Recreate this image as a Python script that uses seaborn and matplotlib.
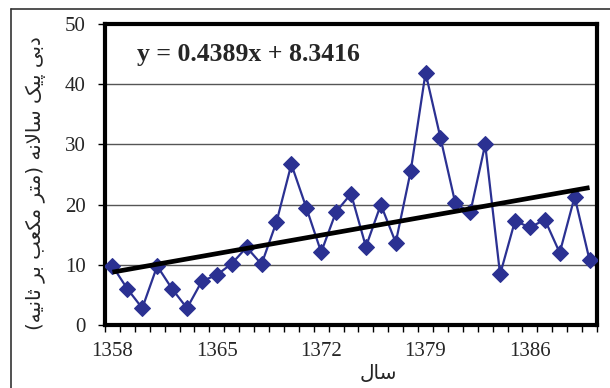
import matplotlib
matplotlib.use('Agg')
import matplotlib.pyplot as plt
import seaborn as sns
import numpy as np
import pandas as pd

# annual peak discharge, years 1358..1390 (solar hijri)
years = list(range(1358, 1391))
peak_flow = [9.8, 6.0, 2.8, 9.8, 6.0, 2.8, 7.3, 8.3, 10.2, 12.9, 10.1, 17.1,
             26.7, 19.5, 12.1, 18.8, 21.8, 13.0, 20.0, 13.7, 25.5, 41.9, 31.1,
             20.2, 18.7, 30.0, 8.4, 17.3, 16.2, 17.5, 12.0, 21.3, 10.8]
tick_years = ['1358', '1365', '1372', '1379', '1386']
y_ticks = [0, 10, 20, 30, 40, 50]
trend_slope = 0.4389
trend_intercept = 8.3416
equation = 'y = 0.4389x + 8.3416'
ylabel_text = 'دبی پیک سالانه (متر مکعب بر ثانیه)'
xlabel_text = 'سال'

# matplotlib has no arabic shaping, so pick presentation forms by hand
FORMS = {
    'ا': ('\uFE8D', '\uFE8E', None, None),
    'ب': ('\uFE8F', '\uFE90', '\uFE91', '\uFE92'),
    'ت': ('\uFE95', '\uFE96', '\uFE97', '\uFE98'),
    'ث': ('\uFE99', '\uFE9A', '\uFE9B', '\uFE9C'),
    'د': ('\uFEA9', '\uFEAA', None, None),
    'ر': ('\uFEAD', '\uFEAE', None, None),
    'س': ('\uFEB1', '\uFEB2', '\uFEB3', '\uFEB4'),
    'ع': ('\uFEC9', '\uFECA', '\uFECB', '\uFECC'),
    'ل': ('\uFEDD', '\uFEDE', '\uFEDF', '\uFEE0'),
    'م': ('\uFEE1', '\uFEE2', '\uFEE3', '\uFEE4'),
    'ن': ('\uFEE5', '\uFEE6', '\uFEE7', '\uFEE8'),
    'ه': ('\uFEE9', '\uFEEA', '\uFEEB', '\uFEEC'),
    'پ': ('\uFB56', '\uFB57', '\uFB58', '\uFB59'),
    'ک': ('\uFB8E', '\uFB8F', '\uFB90', '\uFB91'),
    'ی': ('\uFBFC', '\uFBFD', '\uFBFE', '\uFBFF'),
}


def dual(ch):
    return ch in FORMS and FORMS[ch][2] is not None


def shape(text):
    out = []
    i = 0
    while i < len(text):
        ch = text[i]
        prev = text[i - 1] if i > 0 else ''
        joins_prev = dual(prev)
        if ch == 'ل' and i + 1 < len(text) and text[i + 1] == 'ا':
            out.append('\uFEFC' if joins_prev else '\uFEFB')
            i += 2
            continue
        if ch not in FORMS:
            out.append(ch)
            i += 1
            continue
        nxt = text[i + 1] if i + 1 < len(text) else ''
        joins_next = dual(ch) and nxt in FORMS
        iso, fin, ini, med = FORMS[ch]
        if joins_prev and joins_next:
            out.append(med)
        elif joins_prev:
            out.append(fin)
        elif joins_next:
            out.append(ini)
        else:
            out.append(iso)
        i += 1
    visual = ''.join(reversed(out))
    return visual.translate(str.maketrans('()', ')('))


df = pd.DataFrame({'pos': np.arange(len(years)), 'flow': peak_flow})

sns.set_style('white')
plt.rcParams['font.family'] = ['Liberation Serif', 'DejaVu Serif']

fig = plt.figure(figsize=(6.1, 3.88), dpi=100)
ax = fig.add_axes([105 / 610, 63 / 388, 492 / 610, 301 / 388])

ax.yaxis.grid(True, color='#555555', linewidth=1.0)
ax.set_axisbelow(True)

sns.lineplot(data=df, x='pos', y='flow', ax=ax, color='#2B3192', linewidth=1.6,
             marker='D', markersize=8, markeredgecolor='#2B3192', zorder=3)

trend_x = df['pos'].to_numpy()
trend_y = trend_slope * (trend_x + 1) + trend_intercept
ax.plot(trend_x, trend_y, color='black', linewidth=3.4, solid_capstyle='butt', zorder=4)

ax.set_xlim(-0.5, len(years) - 0.5)
ax.set_ylim(0, 50)
ax.set_yticks(y_ticks)
ax.set_yticklabels([str(v) for v in y_ticks], fontsize=15)
ax.set_xticks([years.index(int(t)) for t in tick_years])
ax.set_xticklabels(tick_years, fontsize=15)
ax.set_xticks(np.arange(-0.5, len(years)), minor=True)
ax.tick_params(axis='x', which='major', length=0, pad=12)
ax.tick_params(axis='x', which='minor', length=5, width=1, direction='out',
               color='black', bottom=True)
ax.tick_params(axis='y', which='major', length=5, width=1, direction='out',
               color='black', left=True, pad=9)

for sp in ax.spines.values():
    sp.set_linewidth(3)
    sp.set_color('black')

ax.set_xlabel('')
ax.set_ylabel('')

ax.text(0.065, 0.9, equation, transform=ax.transAxes, fontsize=18.5,
        fontweight='bold', ha='left', va='center')

fig.text(378 / 610, 1 - 374 / 388, shape(xlabel_text), family='DejaVu Sans',
         fontsize=14.5, ha='center', va='center')
fig.text(36 / 610, 1 - 183 / 388, shape(ylabel_text), family='DejaVu Sans',
         fontsize=14.3, rotation=90, ha='center', va='center')

# outer chart border, cut off on the right and bottom
fig.add_artist(plt.Line2D([11 / 610, 11 / 610], [0, 1 - 9 / 388],
                          transform=fig.transFigure, color='#333333', linewidth=1.2))
fig.add_artist(plt.Line2D([11 / 610, 1], [1 - 9 / 388, 1 - 9 / 388],
                          transform=fig.transFigure, color='#333333', linewidth=1.2))

fig.savefig('out.png', dpi=100)
